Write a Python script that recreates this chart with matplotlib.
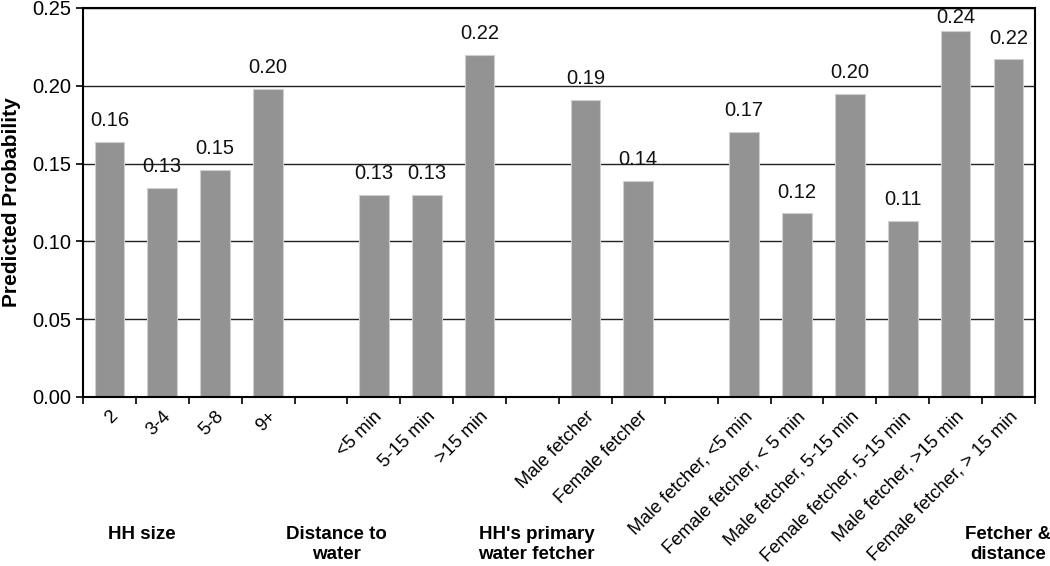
import matplotlib
matplotlib.use("Agg")
import matplotlib.pyplot as plt
import numpy as np

plt.rcParams['font.family'] = ['Liberation Sans', 'DejaVu Sans']

categories = ["2", "3-4", "5-8", "9+", "",
              "<5 min", "5-15 min", ">15 min", "",
              "Male fetcher", "Female fetcher", "",
              "Male fetcher, <5 min", "Female fetcher, < 5 min",
              "Male fetcher, 5-15 min", "Female fetcher, 5-15 min",
              "Male fetcher, >15 min", "Female fetcher, > 15 min"]
values = [0.164, 0.1345, 0.146, 0.198, None,
          0.130, 0.130, 0.220, None,
          0.191, 0.139, None,
          0.1705, 0.118, 0.195, 0.113, 0.2354, 0.217]
value_labels = ["0.16", "0.13", "0.15", "0.20", "",
                "0.13", "0.13", "0.22", "",
                "0.19", "0.14", "",
                "0.17", "0.12", "0.20", "0.11", "0.24", "0.22"]
groups = ["HH size", "Distance to\nwater", "HH's primary\nwater fetcher", "Fetcher &\ndistance"]
group_pos = [0.62, 4.3, 8.08, 16.99]
yticks = [0.00, 0.05, 0.10, 0.15, 0.20, 0.25]

fig = plt.figure(figsize=(10.5, 5.66), dpi=100)
ax = fig.add_axes([0.079, 0.2986, 0.9067, 0.6873])

x = np.arange(len(categories))
for xi, v, lab in zip(x, values, value_labels):
    if v is None:
        continue
    ax.bar(xi, v, width=0.56, color='#939393', edgecolor='#cfcfcf', linewidth=0.8, zorder=2)
    ax.text(xi, min(v + 0.0075, 0.2378), lab, ha='center', va='bottom',
            fontsize=14.5, color='#111111')

ax.set_xlim(-0.5, len(categories) - 0.5)
ax.set_ylim(0, 0.25)
ax.set_yticks(yticks)
ax.set_yticklabels([f"{t:.2f}" for t in yticks], fontsize=14.5)
ax.yaxis.grid(True, color='#222222', linewidth=1.0)
ax.set_axisbelow(True)

ax.set_xticks(x)
ax.set_xticklabels(categories, rotation=45, ha='right', va='top',
                   rotation_mode='anchor', fontsize=13.3)
ax.tick_params(axis='x', which='major', length=0, pad=8)
ax.set_xticks(np.arange(-0.5, len(categories), 1.0), minor=True)
ax.tick_params(axis='x', which='minor', length=5, width=1.2, direction='out')
ax.tick_params(axis='y', length=5, width=1.2, direction='out')

for sp in ax.spines.values():
    sp.set_linewidth(1.5)
    sp.set_color('black')

ax.set_ylabel("Predicted Probability", fontsize=15, fontweight='bold', labelpad=8)

for g, gp in zip(groups, group_pos):
    ax.text(gp, -0.083, g, transform=ax.transData, ha='center', va='top',
            fontsize=13.5, fontweight='bold', linespacing=1.2)

fig.savefig("out.png", dpi=100)
